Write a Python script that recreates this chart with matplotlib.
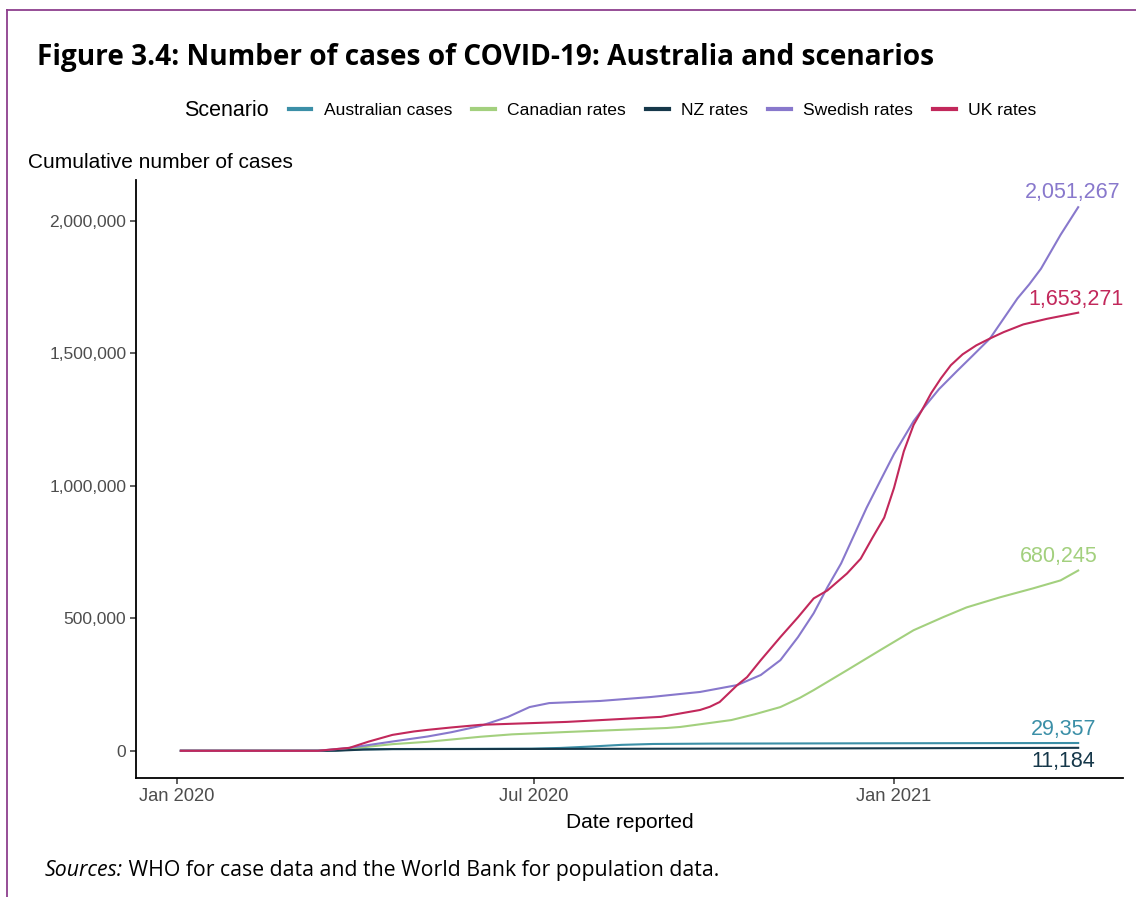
import matplotlib
matplotlib.use('Agg')
import matplotlib.pyplot as plt
import matplotlib.dates as mdates
import matplotlib.ticker as mticker
from matplotlib.lines import Line2D
import pandas as pd

# data (cumulative cases)
uk_dates = ['2020-01-03', '2020-03-13', '2020-03-29', '2020-04-08', '2020-04-20',
            '2020-05-01', '2020-05-08', '2020-05-20', '2020-06-04', '2020-07-18',
            '2020-09-04', '2020-09-24', '2020-09-29', '2020-10-04', '2020-10-13',
            '2020-10-18', '2020-10-25', '2020-11-04', '2020-11-13', '2020-11-21',
            '2020-11-28', '2020-12-08', '2020-12-15', '2020-12-21', '2020-12-27',
            '2021-01-01', '2021-01-06', '2021-01-11', '2021-01-15', '2021-01-20',
            '2021-01-25', '2021-01-30', '2021-02-05', '2021-02-12', '2021-02-19',
            '2021-02-26', '2021-03-08', '2021-03-20', '2021-04-05']
uk_vals = [0, 0, 11000, 35000, 60000,
           73000, 79000, 88000, 98000, 109000,
           128000, 154000, 166000, 184000, 248000,
           278000, 342000, 429000, 504000, 575000,
           605000, 669000, 725000, 804000, 880000,
           992000, 1130000, 1230000, 1282000, 1350000,
           1406000, 1455000, 1496000, 1530000, 1556000,
           1580000, 1609000, 1630000, 1653271]

se_dates = ['2020-01-03', '2020-03-13', '2020-03-29', '2020-04-20', '2020-05-08',
            '2020-05-20', '2020-06-04', '2020-06-18', '2020-06-29', '2020-07-09',
            '2020-08-04', '2020-08-30', '2020-09-24', '2020-10-13', '2020-10-25',
            '2020-11-04', '2020-11-13', '2020-11-21', '2020-11-28', '2020-12-05',
            '2020-12-11', '2020-12-18', '2020-12-25', '2021-01-01', '2021-01-11',
            '2021-01-16', '2021-01-24', '2021-02-02', '2021-02-10', '2021-02-19',
            '2021-03-05', '2021-03-11', '2021-03-17', '2021-03-27', '2021-04-05']
se_vals = [0, 0, 11000, 35000, 54000,
           70000, 94000, 128000, 165000, 180000,
           188000, 203000, 222000, 248000, 286000,
           342000, 429000, 519000, 617000, 707000,
           804000, 917000, 1019000, 1120000, 1244000,
           1293000, 1365000, 1432000, 1490000, 1556000,
           1707000, 1760000, 1819000, 1947000, 2051267]

ca_dates = ['2020-01-03', '2020-03-13', '2020-04-02', '2020-04-20', '2020-05-08',
            '2020-06-04', '2020-06-20', '2020-07-18', '2020-09-07', '2020-09-14',
            '2020-10-10', '2020-10-22', '2020-11-04', '2020-11-14', '2020-11-21',
            '2020-12-08', '2020-12-25', '2021-01-11', '2021-01-26', '2021-02-07',
            '2021-02-24', '2021-03-13', '2021-03-27', '2021-04-05']
ca_vals = [0, 0, 11000, 25000, 34000,
           53000, 62000, 71000, 86000, 90000,
           116000, 138000, 165000, 200000, 229000,
           304000, 380000, 455000, 504000, 541000,
           579000, 613000, 643000, 680245]

au_dates = ['2020-01-03', '2020-03-01', '2020-03-15', '2020-03-22', '2020-03-29',
            '2020-04-05', '2020-04-20', '2020-05-31', '2020-06-30', '2020-07-15',
            '2020-07-31', '2020-08-15', '2020-08-31', '2020-09-30', '2020-12-31',
            '2021-04-05']
au_vals = [0, 27, 300, 1300, 3900,
           5700, 6600, 7200, 7900, 10800,
           16300, 22400, 25700, 27100, 28400,
           29357]

nz_dates = ['2020-01-03', '2020-03-15', '2020-03-22', '2020-03-29', '2020-04-05',
            '2020-04-20', '2020-05-31', '2020-08-31', '2020-12-31', '2021-04-05']
nz_vals = [0, 0, 290, 2270, 4590,
           6370, 6650, 7740, 9550, 11184]

scenarios = ['Australian cases', 'Canadian rates', 'NZ rates', 'Swedish rates', 'UK rates']
colors = ['#3b8fa7', '#a3d07e', '#16384a', '#8878cc', '#c2285b']
series = [(au_dates, au_vals), (ca_dates, ca_vals), (nz_dates, nz_vals),
          (se_dates, se_vals), (uk_dates, uk_vals)]
# end label offsets in pixels (x, y)
label_offsets = [(-15, 14), (-19, 14), (-15, -14), (-5, 15), (-2, 13)]

fig = plt.figure(figsize=(11.36, 8.97), dpi=100)
fig.patch.set_facecolor('white')

# purple frame (top and left)
fig.add_artist(Line2D([0.0062, 1.0], [0.9888, 0.9888], transform=fig.transFigure,
                      color='#8e3f8e', lw=1.3))
fig.add_artist(Line2D([0.0062, 0.0062], [0.0, 0.9888], transform=fig.transFigure,
                      color='#8e3f8e', lw=1.3))

ax = fig.add_axes([0.1197, 0.1327, 0.8689, 0.6666])

for (d, v), c in zip(series, colors):
    ax.plot(pd.to_datetime(d), v, color=c, lw=1.5, solid_joinstyle='round')

# end labels
for (d, v), c, off in zip(series, colors, label_offsets):
    ax.annotate(f'{v[-1]:,}', xy=(pd.to_datetime(d[-1]), v[-1]), xytext=off,
                textcoords='offset pixels', ha='center', va='center', color=c,
                fontsize=15.5, family='Liberation Sans')

# scales (ggplot style 5% expansion)
x0 = pd.Timestamp('2020-01-03')
x1 = pd.Timestamp('2021-04-05')
pad = (x1 - x0) * 0.05
ax.set_xlim(x0 - pad, x1 + pad)
ymax = max(se_vals)
ax.set_ylim(-0.05 * ymax, 1.05 * ymax)

ax.set_xticks(pd.to_datetime(['2020-01-01', '2020-07-01', '2021-01-01']))
ax.xaxis.set_major_formatter(mdates.DateFormatter('%b %Y'))
ax.set_yticks([0, 500000, 1000000, 1500000, 2000000])
ax.yaxis.set_major_formatter(mticker.FuncFormatter(lambda v, p: f'{int(v):,}'))

for s in ['top', 'right']:
    ax.spines[s].set_visible(False)
for s in ['left', 'bottom']:
    ax.spines[s].set_linewidth(1.3)
    ax.spines[s].set_color('black')
ax.tick_params(axis='both', length=4, width=1.1, color='#333333', labelcolor='#4d4d4d',
               labelsize=12.5, pad=3)
ax.tick_params(axis='x', labelsize=13.2)
for lab in ax.get_xticklabels() + ax.get_yticklabels():
    lab.set_family('Liberation Sans')

ax.set_xlabel('Date reported', fontsize=15, family='Liberation Sans', labelpad=6)

fig.text(0.0246, 0.819, 'Cumulative number of cases', fontsize=15,
         family='Liberation Sans', va='center', ha='left')

# title
fig.text(0.0326, 0.936, 'Figure 3.4: Number of cases of COVID-19: Australia and scenarios',
         fontsize=20.2, fontweight='bold', family='Open Sans', va='center', ha='left')

# legend
fig.text(0.162, 0.877, 'Scenario', fontsize=15.5, family='Liberation Sans',
         va='center', ha='left')
handles = [Line2D([], [], color=c, lw=3) for c in colors]
fig.legend(handles, scenarios, loc='center left', bbox_to_anchor=(0.254, 0.877),
           ncol=5, frameon=False, borderpad=0, borderaxespad=0,
           handlelength=1.3, handletextpad=0.7, columnspacing=1.15,
           prop={'family': 'Liberation Sans', 'size': 12.6})

# source note
t1 = fig.text(0.0396, 0.0301, 'Sources:', fontsize=15.3, family='Open Sans',
              style='italic', va='center', ha='left')
ax.annotate(' WHO for case data and the World Bank for population data.',
            xy=(1, 0), xycoords=t1, ha='left', va='bottom', fontsize=15.3,
            family='Open Sans', annotation_clip=False)

fig.savefig('out.png', dpi=100)
